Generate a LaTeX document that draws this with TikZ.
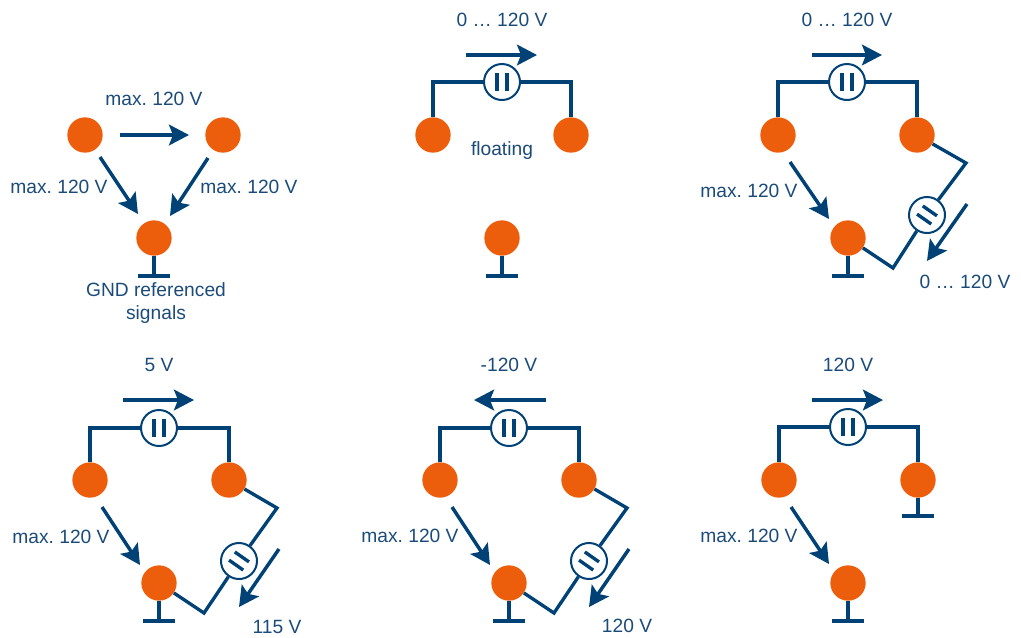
\documentclass[tikz,border=0pt]{standalone}
\usepackage{fontspec}
\setmainfont{Liberation Sans}
\usetikzlibrary{arrows.meta}
\definecolor{wireblue}{HTML}{004276}
\definecolor{textblue}{HTML}{1B4B7A}
\definecolor{dotorange}{HTML}{EC5E0C}
\frenchspacing
\tikzset{
  dot/.style={circle,fill=dotorange,minimum size=26.5pt,inner sep=0pt},
  meter/.style={circle,draw=wireblue,line width=1.5pt,fill=white,minimum size=27pt,inner sep=0pt,text=wireblue},
  gndbar/.style={rectangle,fill=wireblue,minimum width=23.5pt,minimum height=2.7pt,inner sep=0pt},
  lbl/.style={text=textblue,font=\fontsize{14.4}{17.5}\selectfont,inner sep=0pt,align=center},
  wire/.style={wireblue,line width=2.5pt,line join=miter},
  volt/.style={wireblue,line width=2.6pt,->},
}
\newcommand{\meterbars}{\rule{2.5pt}{13pt}\hspace{5pt}\rule{2.5pt}{13pt}}
\begin{document}
\begin{tikzpicture}[x=0.75pt,y=-0.75pt,>={Stealth[length=15pt,width=15.5pt,inset=3pt]}]
\useasboundingbox (0,0) rectangle (1021,637);
%% upper left
  \node (dot_a1) at (85,135) [dot] {};
  \node (dot_a2) at (223,135) [dot] {};
  \node (dot_a3) at (154,238) [dot] {};
  \node (gnd_a) at (154,276) [gndbar] {};
  \coordinate (a_s1) at (120,135);
  \coordinate (a_e1) at (189,135);
  \coordinate (a_s2) at (100,157);
  \coordinate (a_e2) at (138,214);
  \coordinate (a_s3) at (208,158);
  \coordinate (a_e3) at (170,216);
  \node (lbl_a1) at (154,99) [lbl] {max. 120 V};
  \node (lbl_a2) at (59,187) [lbl] {max. 120 V};
  \node (lbl_a3) at (249,187) [lbl] {max. 120 V};
  \node (lbl_a4) at (156,303) [lbl] {GND referenced\\signals};
  \draw [wire] (dot_a3) -- (gnd_a);
  \draw [volt] (a_s1) -- (a_e1);
  \draw [volt] (a_s2) -- (a_e2);
  \draw [volt] (a_s3) -- (a_e3);
%% upper middle
  \node (dot_b1) at (433,135) [dot] {};
  \node (dot_b2) at (571,135) [dot] {};
  \node (dot_b3) at (502,238) [dot] {};
  \node (gnd_b) at (502,276) [gndbar] {};
  \node (meter_b) at (502,82) [meter] {\meterbars};
  \coordinate (b_s1) at (466,55);
  \coordinate (b_e1) at (537,55);
  \node (lbl_b1) at (502,20) [lbl] {0 … 120 V};
  \node (lbl_b2) at (502,151) [lbl] {floating};
  \draw [wire] (dot_b3) -- (gnd_b);
  \draw [wire] (dot_b1) |- (meter_b);
  \draw [wire] (meter_b) -| (dot_b2);
  \draw [volt] (b_s1) -- (b_e1);
%% upper right
  \node (dot_c1) at (778,135) [dot] {};
  \node (dot_c2) at (917,135) [dot] {};
  \node (dot_c3) at (848,238) [dot] {};
  \node (gnd_c) at (848,276) [gndbar] {};
  \node (meter_c1) at (847,82) [meter] {\meterbars};
  \node (meter_c2) at (927,215) [meter,rotate=55] {\meterbars};
  \coordinate (c_k1) at (966,163);
  \coordinate (c_k2) at (893,268);
  \coordinate (c_s1) at (812,55);
  \coordinate (c_e1) at (882,55);
  \coordinate (c_s2) at (790,162);
  \coordinate (c_e2) at (829,219);
  \coordinate (c_s3) at (967,204);
  \coordinate (c_e3) at (927,261);
  \node (lbl_c1) at (847,20) [lbl] {0 … 120 V};
  \node (lbl_c2) at (749,191) [lbl] {max. 120 V};
  \node (lbl_c3) at (965,282) [lbl] {0 … 120 V};
  \draw [wire] (dot_c3) -- (gnd_c);
  \draw [wire] (dot_c1) |- (meter_c1);
  \draw [wire] (meter_c1) -| (dot_c2);
  \draw [wire] (dot_c2) -- (c_k1) -- (meter_c2);
  \draw [wire] (meter_c2) -- (c_k2) -- (dot_c3);
  \draw [volt] (c_s1) -- (c_e1);
  \draw [volt] (c_s2) -- (c_e2);
  \draw [volt] (c_s3) -- (c_e3);
%% lower left
  \node (dot_d1) at (90,480) [dot] {};
  \node (dot_d2) at (229,480) [dot] {};
  \node (dot_d3) at (159,583) [dot] {};
  \node (gnd_d) at (159,621) [gndbar] {};
  \node (meter_d1) at (159,428) [meter] {\meterbars};
  \node (meter_d2) at (239,561) [meter,rotate=55] {\meterbars};
  \coordinate (d_k1) at (277,508);
  \coordinate (d_k2) at (204,613);
  \coordinate (d_s1) at (123,400);
  \coordinate (d_e1) at (194,400);
  \coordinate (d_s2) at (102,507);
  \coordinate (d_e2) at (140,565);
  \coordinate (d_s3) at (279,549);
  \coordinate (d_e3) at (239,607);
  \node (lbl_d1) at (159,365) [lbl] {5 V};
  \node (lbl_d2) at (61,537) [lbl] {max. 120 V};
  \node (lbl_d3) at (277,627) [lbl] {115 V};
  \draw [wire] (dot_d3) -- (gnd_d);
  \draw [wire] (dot_d1) |- (meter_d1);
  \draw [wire] (meter_d1) -| (dot_d2);
  \draw [wire] (dot_d2) -- (d_k1) -- (meter_d2);
  \draw [wire] (meter_d2) -- (d_k2) -- (dot_d3);
  \draw [volt] (d_s1) -- (d_e1);
  \draw [volt] (d_s2) -- (d_e2);
  \draw [volt] (d_s3) -- (d_e3);
%% lower middle
  \node (dot_e1) at (440,480) [dot] {};
  \node (dot_e2) at (579,480) [dot] {};
  \node (dot_e3) at (509,583) [dot] {};
  \node (gnd_e) at (509,621) [gndbar] {};
  \node (meter_e1) at (509,428) [meter] {\meterbars};
  \node (meter_e2) at (589,561) [meter,rotate=55] {\meterbars};
  \coordinate (e_k1) at (627,508);
  \coordinate (e_k2) at (554,613);
  \coordinate (e_s1) at (546,400);
  \coordinate (e_e1) at (474,400);
  \coordinate (e_s2) at (452,507);
  \coordinate (e_e2) at (490,565);
  \coordinate (e_s3) at (629,549);
  \coordinate (e_e3) at (589,607);
  \node (lbl_e1) at (509,365) [lbl] {-120 V};
  \node (lbl_e2) at (410,536) [lbl] {max. 120 V};
  \node (lbl_e3) at (627,626) [lbl] {120 V};
  \draw [wire] (dot_e3) -- (gnd_e);
  \draw [wire] (dot_e1) |- (meter_e1);
  \draw [wire] (meter_e1) -| (dot_e2);
  \draw [wire] (dot_e2) -- (e_k1) -- (meter_e2);
  \draw [wire] (meter_e2) -- (e_k2) -- (dot_e3);
  \draw [volt] (e_s1) -- (e_e1);
  \draw [volt] (e_s2) -- (e_e2);
  \draw [volt] (e_s3) -- (e_e3);
%% lower right
  \node (dot_f1) at (779,480) [dot] {};
  \node (dot_f2) at (918,480) [dot] {};
  \node (dot_f3) at (848,583) [dot] {};
  \node (gnd_f1) at (918,516) [gndbar] {};
  \node (gnd_f2) at (848,621) [gndbar] {};
  \node (meter_f) at (848,427) [meter] {\meterbars};
  \coordinate (f_s1) at (812,400);
  \coordinate (f_e1) at (883,400);
  \coordinate (f_s2) at (791,507);
  \coordinate (f_e2) at (829,564);
  \node (lbl_f1) at (848,365) [lbl] {120 V};
  \node (lbl_f2) at (749,536) [lbl] {max. 120 V};
  \draw [wire] (dot_f2) -- (gnd_f1);
  \draw [wire] (dot_f3) -- (gnd_f2);
  \draw [wire] (dot_f1) |- (meter_f);
  \draw [wire] (meter_f) -| (dot_f2);
  \draw [volt] (f_s1) -- (f_e1);
  \draw [volt] (f_s2) -- (f_e2);
%
\end{tikzpicture}
\end{document}
